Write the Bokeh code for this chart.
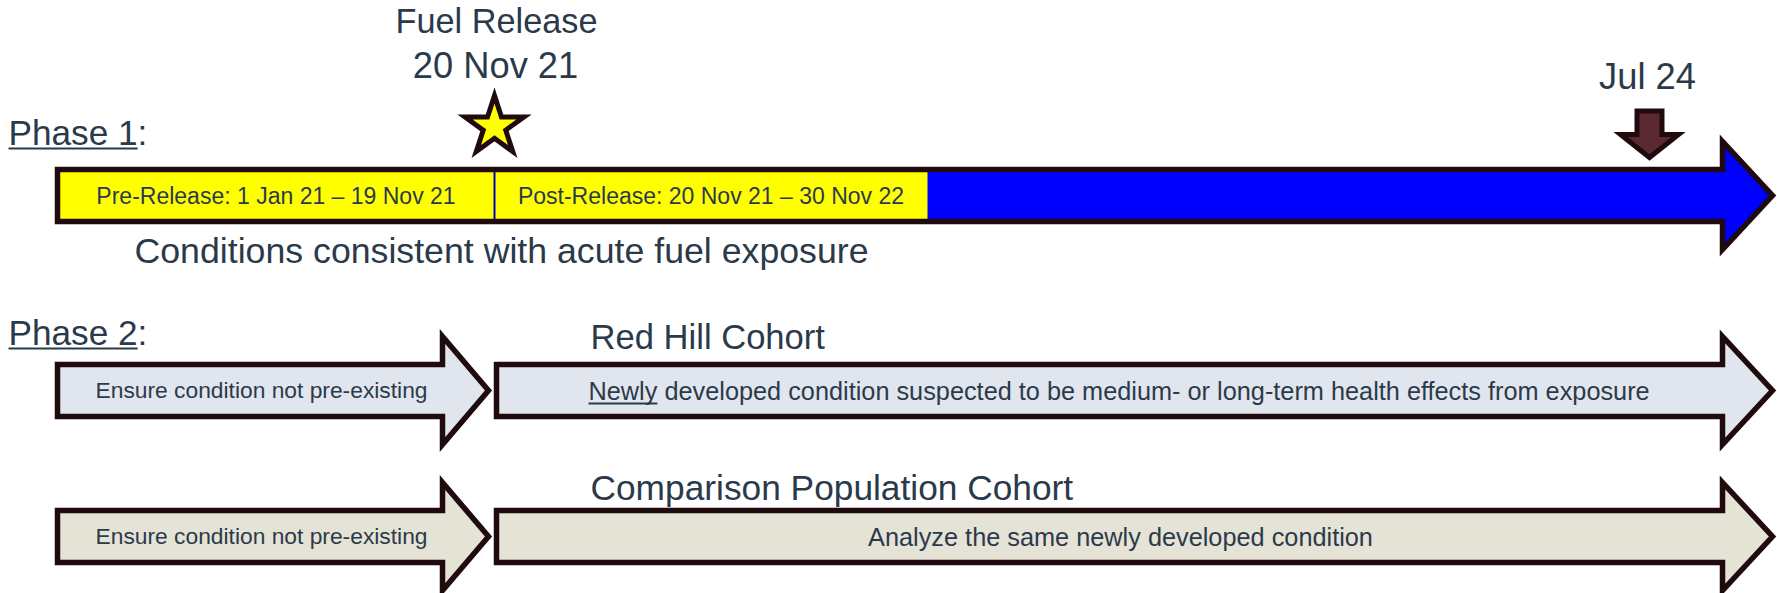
from bokeh.plotting import figure
from bokeh.models import Range1d
from bokeh.core.properties import value
from bokeh.embed import file_html
from bokeh.resources import INLINE

# ---------------- content ----------------
phase_labels = ["Phase 1", "Phase 2"]
release_title = ["Fuel Release", "20 Nov 21"]
end_label = ["Jul 24"]
phase1_segments = ["Pre-Release: 1 Jan 21 \u2013 19 Nov 21",
                   "Post-Release: 20 Nov 21 \u2013 30 Nov 22"]
phase1_caption = ["Conditions consistent with acute fuel exposure"]
cohort_names = ["Red Hill Cohort", "Comparison Population Cohort"]
cohort_pre_text = ["Ensure condition not pre-existing",
                   "Ensure condition not pre-existing"]
cohort_main_text = ["Newly developed condition suspected to be medium- or long-term health effects from exposure",
                    "Analyze the same newly developed condition"]
underlined_word = "Newly"

# ---------------- styles ----------------
FONT = value("Liberation Sans")
TXT = "#2B3A4B"
OUTLINE = "#1F0A0E"
YELLOW = "#FFFF00"
BLUE = "#0000FF"
MAROON = "#5A2A30"
COHORT_FILL = ["#E1E6EE", "#E5E3D5"]
LW = 5.5
BASE_ADJ = 0.36   # bokeh places alphabetic baseline lower; compensate

W, H = 1777, 593
p = figure(width=W, height=H, x_range=Range1d(0, W), y_range=Range1d(H, 0),
           output_backend="svg", toolbar_location=None, min_border=0,
           x_axis_type=None, y_axis_type=None)
p.grid.visible = False
p.outline_line_color = None
p.background_fill_color = "white"


def label(xs, baselines, texts, fs, align="center"):
    p.text(x=xs, y=[b - BASE_ADJ * fs for b in baselines], text=texts, text_font=FONT,
           text_font_size=f"{fs}px", text_color=TXT, text_align=align,
           text_baseline="alphabetic")


def arrow(x0, xb, xt, yc, sh, hh):
    xs = [x0, xb, xb, xt, xb, xb, x0]
    ys = [yc - sh, yc - sh, yc - hh, yc, yc + hh, yc + sh, yc + sh]
    return xs, ys


SH, HH = 26, 54
X0, XTIP = 57, 1772
XHEAD = 1722
ROW_Y = [195, 390, 536]
SPLIT = 494           # fuel release position
SEG_END = 927         # end of post-release period

# ---------- Phase 1 timeline ----------
ax, ay = arrow(X0, XHEAD, XTIP, ROW_Y[0], SH, HH)
p.patch(ax, ay, fill_color=BLUE, line_color=None)
seg_left = [X0, SPLIT]
seg_right = [SPLIT, SEG_END]
p.quad(left=seg_left, right=seg_right, top=[ROW_Y[0] - SH] * 2, bottom=[ROW_Y[0] + SH] * 2,
       fill_color=YELLOW, line_color=None)
p.segment(x0=[SPLIT], y0=[ROW_Y[0] - SH], x1=[SPLIT], y1=[ROW_Y[0] + SH],
          line_color="#0000CC", line_width=2)
p.patch(ax, ay, fill_color=None, line_color=OUTLINE, line_width=LW, line_join="miter")

seg_centers = [(a + b) / 2 for a, b in zip(seg_left, seg_right)]
label(seg_centers, [ROW_Y[0] + 9] * 2, phase1_segments, 23)
label([501], [263], phase1_caption, 35.7)

# Fuel release marker
label([SPLIT + 2], [33], release_title[:1], 34.3)
label([SPLIT + 1], [78], release_title[1:], 36.3)
p.scatter(x=[SPLIT], y=[126], marker="star", size=62, fill_color=YELLOW,
          line_color=OUTLINE, line_width=5, line_join="miter")

# Jul 24 marker
JX = 1649
label([1647], [89], end_label, 36.3)
dx = [JX - 12.5, JX + 12.5, JX + 12.5, JX + 29, JX, JX - 29, JX - 12.5]
dy = [110.5, 110.5, 134, 134, 157, 134, 134]
p.patch(dx, dy, fill_color=MAROON, line_color=OUTLINE, line_width=5, line_join="miter")

# Phase labels
PHASE_Y = [145, 345]
PFS = 35.2
label([8, 8], PHASE_Y, [s + ":" for s in phase_labels], PFS, align="left")
ul_w = 3.669 * PFS
p.segment(x0=[8, 8], y0=[y + 3 for y in PHASE_Y], x1=[8 + ul_w] * 2, y1=[y + 3 for y in PHASE_Y],
          line_color=TXT, line_width=2)

# ---------- Phase 2 cohorts ----------
SMALL_HEAD, SMALL_TIP = 442, 488
BIG_X0 = 496
for i, yc in enumerate(ROW_Y[1:]):
    sx, sy = arrow(X0, SMALL_HEAD, SMALL_TIP, yc, SH, HH)
    p.patch(sx, sy, fill_color=COHORT_FILL[i], line_color=OUTLINE, line_width=LW, line_join="miter")
    bx, by = arrow(BIG_X0, XHEAD, XTIP, yc, SH, HH)
    p.patch(bx, by, fill_color=COHORT_FILL[i], line_color=OUTLINE, line_width=LW, line_join="miter")

label([261, 261], [y + 8 for y in ROW_Y[1:]], cohort_pre_text, 22.8)
label([590], [349], cohort_names[:1], 34.6, align="left")
label([590], [500], cohort_names[1:], 35.3, align="left")

# main cohort texts
MFS = 25.3
label([588], [ROW_Y[1] + 10], cohort_main_text[:1], MFS, align="left")
nw = 2.722 * MFS
p.segment(x0=[588], y0=[ROW_Y[1] + 13], x1=[588 + nw], y1=[ROW_Y[1] + 13],
          line_color=TXT, line_width=1.8)
label([1120], [ROW_Y[2] + 10], cohort_main_text[1:], MFS)

open("out.html", "w").write(file_html(p, INLINE))
